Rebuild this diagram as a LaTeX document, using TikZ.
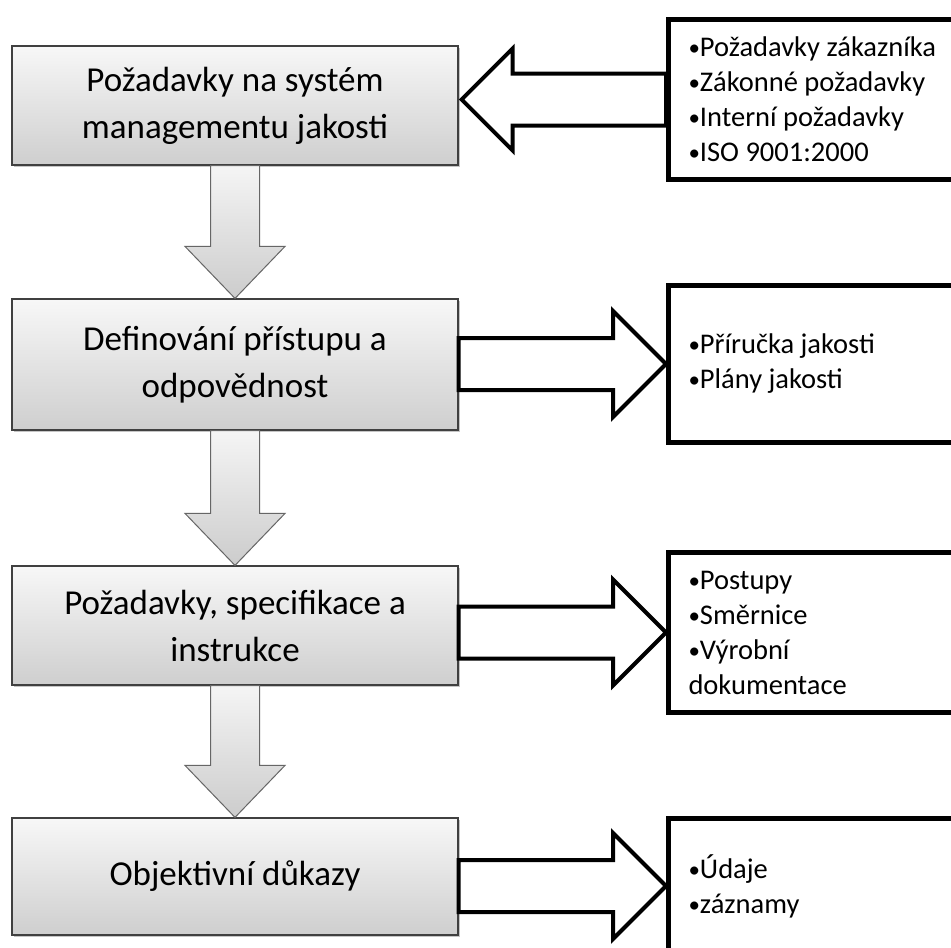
\documentclass[tikz,border=0pt]{standalone}
\usepackage{fontspec}
\setmainfont{Carlito}
\usetikzlibrary{calc,shadows}

% small bullet as in the list boxes
\newcommand{\odrazka}{{\fontsize{23}{23}\selectfont\raisebox{1pt}{•}}}
% block arrow pointing down from #1 to #2
\newcommand{\sipkadolu}[2]{%
  \draw[sipkadolu] ($(#1.south)+(-24.5,0)$) -- ($(#2.north)+(-24.5,-52)$)
    -- ($(#2.north)+(-50,-52)$) -- (#2.north) -- ($(#2.north)+(50,-52)$)
    -- ($(#2.north)+(24.5,-52)$) -- ($(#1.south)+(24.5,0)$) -- cycle;}
% block arrow pointing right from #1 to #2
\newcommand{\sipkavpravo}[2]{%
  \draw[sipkabok] ($(#1.east |- #2.west)+(0,-26)$) -- ($(#2.west)+(-53,-26)$)
    -- ($(#2.west)+(-53,-53)$) -- (#2.west) -- ($(#2.west)+(-53,53)$)
    -- ($(#2.west)+(-53,26)$) -- ($(#1.east |- #2.west)+(0,26)$) -- cycle;}
% block arrow pointing left from #1 to #2
\newcommand{\sipkavlevo}[2]{%
  \draw[sipkabok] ($(#1.west)+(0,-26)$) -- ($(#2.east |- #1.west)+(54,-26)$)
    -- ($(#2.east |- #1.west)+(54,-51)$) -- ($(#2.east |- #1.west)+(3,0)$)
    -- ($(#2.east |- #1.west)+(54,51)$) -- ($(#2.east |- #1.west)+(54,26)$)
    -- ($(#1.west)+(0,26)$) -- cycle;}

\tikzset{
  hlavni/.style={draw=black!75, line width=1.2pt, top color=gray!6, bottom color=gray!38,
    drop shadow={shadow xshift=2pt, shadow yshift=-2pt, opacity=.45},
    minimum width=446, align=center, font=\fontsize{35}{47}\selectfont},
  seznam/.style={draw=black, line width=5pt, fill=white, anchor=west,
    text width=360, inner xsep=20, inner ysep=0, align=flush left,
    font=\fontsize{28.5}{35}\selectfont},
  sipkadolu/.style={draw=black!60, line width=1pt, top color=gray!8, bottom color=gray!40},
  sipkabok/.style={draw=black, line width=4pt, fill=white}
}

\begin{document}
\begin{tikzpicture}[x=1pt,y=-1pt]
  \useasboundingbox (0,0) rectangle (951,948);
  \clip (0,0) rectangle (951,948);
  \fill[white] (0,0) rectangle (951,948);

  % main steps
  \node (pozad) at (235,105.5) [hlavni, minimum height=119] {Požadavky na systém\\managementu jakosti};
  \node (defin) at (235,364.5) [hlavni, minimum height=131] {Definování přístupu a\\odpovědnost};
  \node (instr) at (235,625.5) [hlavni, minimum height=119] {Požadavky, specifikace a\\instrukce};
  \node (dukaz) at (235,876.5) [hlavni, minimum height=117] {Objektivní důkazy};

  % side lists
  \node (vstupy) at (666,99.5) [seznam, minimum height=160] {\odrazka Požadavky zákazníka\\\odrazka Zákonné požadavky\\\odrazka Interní požadavky\\\odrazka ISO 9001:2000};
  \node (prirucka) at (666,364) [seznam, minimum height=157] {\odrazka Příručka jakosti\\\odrazka Plány jakosti};
  \node (postupy) at (666,632.5) [seznam, minimum height=160] {\odrazka Postupy\\\odrazka Směrnice\\\odrazka Výrobní\\dokumentace};
  \node (zaznamy) at (666,886) [seznam, minimum height=136] {\odrazka Údaje\\\odrazka záznamy};

  \foreach \a/\b in {pozad/defin, defin/instr, instr/dukaz}
    \sipkadolu{\a}{\b};
  \sipkavlevo{vstupy}{pozad}
  \sipkavpravo{defin}{prirucka}
  \sipkavpravo{instr}{postupy}
  \sipkavpravo{dukaz}{zaznamy}
\end{tikzpicture}
\end{document}
